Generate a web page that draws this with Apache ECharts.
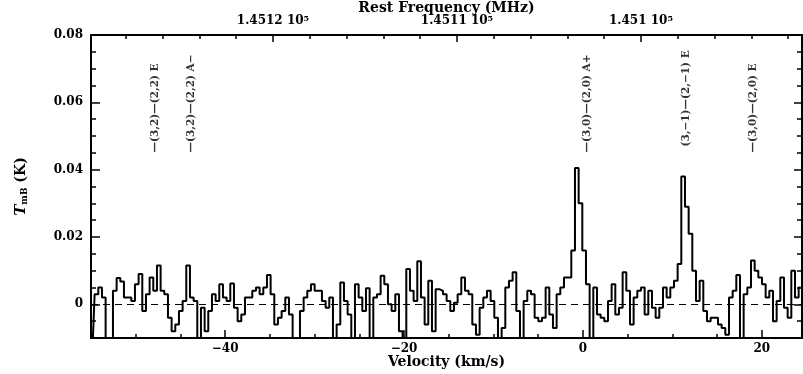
<!DOCTYPE html>
<html><head><meta charset="utf-8">
<script src="https://cdn.jsdelivr.net/npm/echarts@6/dist/echarts.min.js"></script>
<style>html,body{margin:0;padding:0;background:#fff}#c{width:803px;height:374px}</style>
</head><body><div id="c"></div>
<script>
// spectrum channels (km/s)
const chanStart = -54.8;
const chanWidth = 0.41;
// T_mB (K) per channel
const tmb = [
  -0.011, 0.003, 0.005, 0.002, -0.011, -0.011, 0.004, 0.0078, 0.0068, 0.002,
  0.002, 0.001, 0.006, 0.009, -0.002, 0.003, 0.008, 0.004, 0.0115, 0.004,
  0.003, -0.004, -0.008, -0.006, -0.002, 0.001, 0.0115, 0.002, 0.001, -0.011,
  -0.001, -0.008, -0.002, 0.003, 0.001, 0.006, 0.002, 0.001, 0.0062, -0.001,
  -0.005, -0.003, 0.002, 0.002, 0.004, 0.005, 0.003, 0.005, 0.0087, 0.003,
  -0.006, -0.004, -0.002, 0.002, -0.003, -0.011, -0.011, -0.002, 0.002, 0.004,
  0.006, 0.004, 0.004, 0.001, -0.001, 0.002, -0.011, -0.006, 0.0065, 0.001,
  -0.003, -0.011, 0.006, 0.002, -0.002, 0.0048, -0.011, 0.002, 0.003, 0.0085,
  0.006, 0.000, -0.002, 0.003, -0.008, -0.011, 0.0105, 0.004, 0.001, 0.0128,
  0.002, -0.006, 0.007, -0.008, 0.0045, 0.004, 0.003, 0.001, -0.002, 0.0005,
  0.003, 0.008, 0.004, 0.003, -0.006, -0.009, -0.001, 0.002, 0.004, 0.001,
  -0.004, -0.011, -0.007, 0.005, 0.007, 0.0095, -0.002, -0.011, 0.001, 0.004,
  0.003, -0.004, -0.005, -0.004, 0.005, -0.003, -0.007, 0.003, 0.005, 0.008,
  0.008, 0.016, 0.0405, 0.030, 0.016, 0.006, -0.011, 0.005, -0.003, -0.004,
  -0.005, 0.001, 0.006, -0.003, -0.001, 0.0095, 0.004, -0.006, 0.002, 0.004,
  0.005, -0.003, 0.004, -0.001, -0.004, -0.001, 0.005, 0.002, 0.005, 0.007,
  0.012, 0.038, 0.029, 0.021, 0.010, 0.001, 0.007, -0.002, -0.005, -0.004,
  -0.004, -0.006, -0.007, -0.009, 0.002, 0.004, 0.0087, -0.011, 0.003, 0.005,
  0.013, 0.010, 0.008, 0.006, 0.002, 0.004, -0.005, 0.001, 0.008, -0.001,
  -0.004, 0.010, 0.002, 0.005
];
// line identifications
const lineVel = [-47.84, -43.74, 0.45, 11.52, 19.05];
const lineBase = [0.0451, 0.0451, 0.0451, 0.0469, 0.0451];
const lineNames = ['—(3,2)—(2,2) E', '—(3,2)—(2,2) A−', '—(3,0)—(2,0) A+', '(3,−1)—(2,−1) E', '—(3,0)—(2,0) E'];
// ticks
const velMajorTicks = [-40, -20, 0, 20];
const velMinorTicks = [-50, -45, -40, -35, -30, -25, -20, -15, -10, -5, 0, 5, 10, 15, 20];
const freqMajorTicks = [145100, 145110, 145120];
const freqMinorTicks = [145092, 145094, 145096, 145098, 145100, 145102, 145104, 145106, 145108, 145110, 145112, 145114, 145116, 145118, 145120, 145122, 145124, 145126, 145128];
const tMajorTicks = [0, 0.02, 0.04, 0.06, 0.08];
const tMinorTicks = [-0.005, 0, 0.005, 0.01, 0.015, 0.02, 0.025, 0.03, 0.035, 0.04, 0.045, 0.05, 0.055, 0.06, 0.065, 0.07, 0.075];
// axis ranges
const velMin = -55, velMax = 24.5;
const freqAtVelMin = 145129.89, freqAtVelMax = 145091.25;
const tMin = -0.01, tMax = 0.08;

const FF = 'DejaVu Serif';
const black = '#000';
const spectrum = tmb.map((t, i) => [chanStart + chanWidth * i, t]);
const ids = lineVel.map((v, i) => [v, lineBase[i], lineNames[i]]);

const noLine = () => ({ show: false, onZero: false });
const frame = () => ({ show: true, onZero: false, lineStyle: { color: black, width: 2 } });
const tickStyle = () => ({ color: black, width: 1.5 });
const lab = (extra) => Object.assign({ color: black, fontFamily: FF, fontWeight: 'bold', fontSize: 12 }, extra);
const titleStyle = () => ({ color: black, fontFamily: FF, fontWeight: 'bold', fontSize: 14 });

const chart = echarts.init(document.getElementById('c'), null, { renderer: 'canvas' });
chart.setOption({
  animation: false,
  backgroundColor: '#fff',
  grid: { left: 91, right: 1, top: 35, bottom: 36, containLabel: false, outerBoundsMode: 'none' },
  xAxis: [
    { type: 'value', position: 'bottom', min: velMin, max: velMax,
      axisLine: frame(),
      axisTick: { show: true, inside: true, length: 8, customValues: velMajorTicks, lineStyle: tickStyle() },
      axisLabel: lab({ show: true, margin: 5, customValues: velMajorTicks,
        formatter: v => v < 0 ? '−' + Math.abs(v) : String(v) }),
      splitLine: { show: false },
      name: 'Velocity (km/s)', nameLocation: 'middle', nameGap: 17, nameMoveOverlap: false,
      nameTextStyle: titleStyle() },
    { type: 'value', position: 'bottom', min: velMin, max: velMax,
      axisLine: noLine(),
      axisTick: { show: true, inside: true, length: 4, customValues: velMinorTicks, lineStyle: tickStyle() },
      axisLabel: { show: false, customValues: velMinorTicks }, splitLine: { show: false } },
    { type: 'value', position: 'top', inverse: true, min: freqAtVelMax, max: freqAtVelMin,
      axisLine: frame(),
      axisTick: { show: true, inside: true, length: 7, customValues: freqMajorTicks, lineStyle: tickStyle() },
      axisLabel: lab({ show: true, margin: 8, customValues: freqMajorTicks,
        formatter: v => Number((v / 1e5).toFixed(5)) + ' 10{s|5}',
        rich: { s: { fontFamily: FF, fontWeight: 'bold', fontSize: 8, verticalAlign: 'top', color: black } } }),
      splitLine: { show: false },
      name: 'Rest Frequency (MHz)', nameLocation: 'middle', nameGap: 20, nameMoveOverlap: false,
      nameTextStyle: titleStyle() },
    { type: 'value', position: 'top', inverse: true, min: freqAtVelMax, max: freqAtVelMin,
      axisLine: noLine(),
      axisTick: { show: true, inside: true, length: 4, customValues: freqMinorTicks, lineStyle: tickStyle() },
      axisLabel: { show: false, customValues: freqMinorTicks }, splitLine: { show: false } }
  ],
  yAxis: [
    { type: 'value', position: 'left', min: tMin, max: tMax,
      axisLine: frame(),
      axisTick: { show: true, inside: true, length: 9, customValues: tMajorTicks, lineStyle: tickStyle() },
      axisLabel: lab({ show: true, margin: 8, customValues: tMajorTicks,
        formatter: v => v === 0 ? '0' : v.toFixed(2) }),
      splitLine: { show: false },
      name: '{t|T}{sub|mB} {k|(K)}', nameLocation: 'middle', nameGap: 62, nameMoveOverlap: false,
      nameTextStyle: Object.assign(titleStyle(), {
        rich: {
          t: { fontFamily: FF, fontWeight: 'bold', fontStyle: 'italic', fontSize: 15, color: black },
          sub: { fontFamily: FF, fontWeight: 'bold', fontSize: 9, verticalAlign: 'bottom', color: black },
          k: { fontFamily: FF, fontWeight: 'bold', fontSize: 14, color: black }
        } }) },
    { type: 'value', position: 'left', min: tMin, max: tMax,
      axisLine: noLine(),
      axisTick: { show: true, inside: true, length: 5, customValues: tMinorTicks, lineStyle: tickStyle() },
      axisLabel: { show: false, customValues: tMinorTicks }, splitLine: { show: false } },
    { type: 'value', position: 'right', min: tMin, max: tMax,
      axisLine: frame(),
      axisTick: { show: true, inside: true, length: 8, customValues: tMajorTicks, lineStyle: tickStyle() },
      axisLabel: { show: false, customValues: tMajorTicks }, splitLine: { show: false } },
    { type: 'value', position: 'right', min: tMin, max: tMax,
      axisLine: noLine(),
      axisTick: { show: true, inside: true, length: 5, customValues: tMinorTicks, lineStyle: tickStyle() },
      axisLabel: { show: false, customValues: tMinorTicks }, splitLine: { show: false } }
  ],
  series: [
    { type: 'line', xAxisIndex: 0, yAxisIndex: 0, data: spectrum, step: 'middle',
      showSymbol: false, symbol: 'none', clip: true,
      lineStyle: { color: black, width: 2 },
      markLine: { silent: true, symbol: 'none', animation: false,
        label: { show: false },
        lineStyle: { color: black, width: 1.2, type: [7, 5] },
        data: [{ yAxis: 0 }] } },
    { type: 'scatter', xAxisIndex: 0, yAxisIndex: 0, data: ids, symbolSize: 0.1,
      itemStyle: { color: 'rgba(0,0,0,0)' }, silent: true,
      label: { show: true, formatter: p => p.data[2], rotate: 90, position: 'inside',
        align: 'left', verticalAlign: 'middle', color: black, fontFamily: FF, fontWeight: 'bold', fontSize: 10.5 } }
  ]
});
</script></body></html>
